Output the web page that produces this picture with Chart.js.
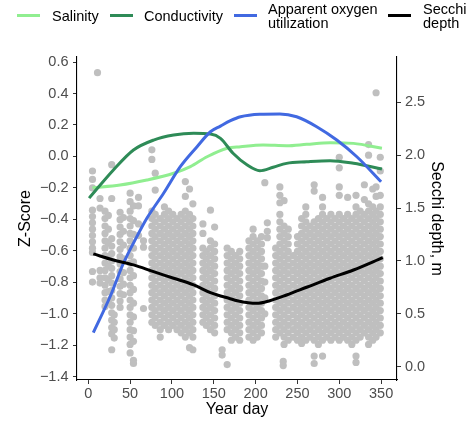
<!DOCTYPE html>
<html lang="en">
<head>
  <meta charset="UTF-8">
  <title>Z-Score and Secchi depth by year day</title>
  <script src="https://cdn.jsdelivr.net/npm/chart.js"></script>
  <style>
    body { margin: 0; background: #fff; }
    .wrap { position: relative; width: 470px; height: 422px; overflow: hidden; font-family: "Liberation Sans", Arial, sans-serif; }
    .wrap canvas { position: absolute; left: 0; top: 0; }
    .key { position: absolute; top: 14px; width: 23px; height: 3px; }
    .label { position: absolute; font-size: 14.5px; color: #000; white-space: nowrap; }
    .label.one { top: 9px; line-height: 14.5px; }
    .label.two { top: 2.3px; line-height: 14px; }
  </style>
</head>
<body>
  <div class="wrap">
    <canvas id="chart" width="470" height="422"></canvas>
    <div class="legend">
      <span class="key" style="left:17px;background:#90ee90"></span>
      <span class="label one" style="left:52px">Salinity</span>
      <span class="key" style="left:110px;background:#2e8b57"></span>
      <span class="label one" style="left:144px">Conductivity</span>
      <span class="key" style="left:234px;background:#4169e1"></span>
      <span class="label two" style="left:268px">Apparent oxygen<br>utilization</span>
      <span class="key" style="left:388px;background:#000"></span>
      <span class="label two" style="left:423px">Secchi<br>depth</span>
    </div>
  </div>

  <script>
    // axis ticks
    const dayTicks = [0, 50, 100, 150, 200, 250, 300, 350];
    const zTicks = [-1.4, -1.2, -1.0, -0.8, -0.6, -0.4, -0.2, 0.0, 0.2, 0.4, 0.6];
    const depthTicks = [0.0, 0.5, 1.0, 1.5, 2.0, 2.5];

    // smoothed z-score curves (left axis)
    const salinityDays = [5, 38, 70, 102, 122, 142, 166, 182, 209, 237, 261, 289, 317, 351];
    const salinityZ = [-0.199, -0.182, -0.150, -0.107, -0.065, -0.002, 0.052, 0.062, 0.073, 0.068, 0.077, 0.087, 0.083, 0.052];

    const conductivityDays = [1, 30, 54, 78, 102, 126, 146, 158, 173, 190, 205, 221, 237, 261, 289, 317, 351];
    const conductivityZ = [-0.265, -0.086, 0.041, 0.104, 0.136, 0.147, 0.142, 0.115, 0.020, -0.055, -0.091, -0.069, -0.044, -0.034, -0.027, -0.044, -0.080];

    const aouDays = [6, 26, 42, 58, 70, 90, 110, 130, 146, 158, 170, 182, 205, 229, 249, 273, 297, 321, 350];
    const aouZ = [-1.12, -0.892, -0.679, -0.510, -0.393, -0.234, -0.065, 0.062, 0.157, 0.193, 0.227, 0.252, 0.268, 0.270, 0.252, 0.189, 0.104, -0.002, -0.161];

    // smoothed Secchi depth (right axis)
    const secchiFitDays = [6, 30, 54, 78, 102, 126, 146, 158, 168, 178, 201, 217, 237, 261, 289, 317, 352];
    const secchiFitDepth = [1.066, 1.009, 0.962, 0.898, 0.836, 0.773, 0.700, 0.668, 0.647, 0.624, 0.599, 0.624, 0.678, 0.751, 0.836, 0.914, 1.031];

    // Secchi observations: [year day, depth, depth, ...]
    const secchiObs = [
      [5, 1.85, 1.77, 1.69, 1.48, 1.42, 1.36, 1.30, 1.24, 1.18, 1.12, 1.08, 0.90, 0.80],
      [11, 2.78],
      [14, 1.59, 1.50, 0.91, 0.84, 0.79],
      [20, 1.47, 1.40, 1.33, 1.26, 1.19, 1.12, 1.05, 0.98, 0.91, 0.84, 0.77, 0.70, 0.63, 0.57],
      [24, 1.43, 1.30, 1.17, 1.04, 0.95, 0.82, 0.71, 0.61],
      [28, 1.91, 1.59, 1.21, 1.14, 1.07, 1.00, 0.93, 0.86, 0.79, 0.72, 0.65, 0.58, 0.51, 0.44, 0.37, 0.31, 0.16],
      [31, 0.49, 0.42, 0.35, 0.27],
      [38, 1.46, 1.39, 1.32, 1.25, 1.18, 1.11, 1.04, 0.97, 0.90, 0.83, 0.76, 0.69, 0.62, 0.56],
      [42, 1.41, 1.28, 1.15, 1.02, 0.89, 0.78, 0.68],
      [50, 1.64, 1.56, 1.47, 1.40, 1.33, 1.26, 1.19, 1.12, 1.05, 0.98, 0.91, 0.84, 0.77, 0.70, 0.63, 0.56, 0.49, 0.42, 0.35, 0.28, 0.21, 0.13],
      [54, 1.52, 1.38, 1.25, 1.12, 0.99, 0.86, 0.73, 0.60, 0.47, 0.34, 0.24, 0.06, 0.03],
      [60, 1.60, 1.52, 1.35, 1.24],
      [66, 1.19, 1.13, 0.55],
      [76, 2.05, 1.96, 1.47, 1.40, 1.33, 1.26, 1.19, 1.12, 1.05, 0.98, 0.91, 0.84, 0.77, 0.70, 0.63, 0.56, 0.49, 0.42],
      [80, 1.83, 1.67, 1.44, 1.37, 1.30, 1.23, 1.16, 1.09, 1.02, 0.95, 0.88, 0.81, 0.74, 0.67, 0.60, 0.53, 0.46, 0.39],
      [86, 1.40, 1.33, 1.26, 1.19, 1.12, 1.05, 0.98, 0.91, 0.84, 0.77, 0.70, 0.63, 0.56, 0.49, 0.42, 0.35, 0.28],
      [91, 1.51, 1.44, 1.37, 1.30, 1.23, 1.16, 1.09, 1.02, 0.95, 0.88, 0.81, 0.74, 0.67, 0.60, 0.53, 0.46, 0.39],
      [96, 1.47, 1.40, 1.33, 1.26, 1.19, 1.12, 1.05, 0.98, 0.91, 0.84, 0.77, 0.70, 0.63, 0.56, 0.49, 0.42, 0.35],
      [101, 1.44, 1.37, 1.30, 1.23, 1.16, 1.09, 1.02, 0.95, 0.88, 0.81, 0.74, 0.67, 0.60, 0.53, 0.46, 0.39],
      [106, 1.40, 1.33, 1.26, 1.19, 1.12, 1.05, 0.98, 0.91, 0.84, 0.77, 0.70, 0.63, 0.56, 0.49, 0.42, 0.35],
      [111, 1.44, 1.37, 1.30, 1.23, 1.16, 1.09, 1.02, 0.95, 0.88, 0.81, 0.74, 0.67, 0.60, 0.53, 0.46, 0.39, 0.32],
      [116, 1.75, 1.61, 1.47, 1.40, 1.33, 1.26, 1.19, 1.12, 1.05, 0.98, 0.91, 0.84, 0.77, 0.70, 0.63, 0.56, 0.49, 0.42, 0.35, 0.28],
      [121, 1.68, 1.44, 1.37, 1.30, 1.23, 1.16, 1.09, 1.02, 0.95, 0.88, 0.81, 0.74, 0.67, 0.60, 0.53, 0.46, 0.39, 0.32, 0.18],
      [125, 1.54, 1.40, 1.33, 1.26, 1.19, 1.12, 1.05, 0.98, 0.91, 0.84, 0.77, 0.70, 0.63, 0.56, 0.49, 0.42, 0.35, 0.28, 0.16],
      [137, 1.35, 1.26, 1.12, 1.05, 0.98, 0.91, 0.84, 0.77, 0.70, 0.63, 0.56, 0.49, 0.42],
      [141, 1.09, 1.02, 0.95, 0.88, 0.81, 0.74, 0.67, 0.60, 0.53, 0.46, 0.39],
      [146, 1.48, 1.19, 1.12, 1.05, 0.98, 0.91, 0.84, 0.77, 0.70, 0.63, 0.56, 0.49, 0.42, 0.35],
      [151, 1.32, 1.16, 1.09, 1.02, 0.95, 0.88, 0.81, 0.74, 0.67, 0.60, 0.53, 0.46, 0.39, 0.32],
      [160, 0.16, 0.11],
      [166, 1.12, 1.05, 0.98, 0.91, 0.84, 0.77, 0.70, 0.63, 0.56, 0.49, 0.42, 0.35, 0.02],
      [171, 1.09, 1.02, 0.95, 0.88, 0.81, 0.74, 0.67, 0.60, 0.53, 0.46, 0.39, 0.32, 0.25],
      [176, 1.05, 0.98, 0.91, 0.84, 0.77, 0.70, 0.63, 0.56, 0.49, 0.42, 0.35, 0.28],
      [181, 1.09, 1.02, 0.95, 0.88, 0.81, 0.74, 0.67, 0.60, 0.53, 0.46, 0.39, 0.32, 0.25],
      [192, 1.19, 1.12, 1.05, 0.98, 0.91, 0.84, 0.77, 0.70, 0.63, 0.56, 0.49, 0.42, 0.35, 0.28],
      [197, 1.30, 1.23, 1.16, 1.09, 1.02, 0.95, 0.88, 0.81, 0.74, 0.67, 0.60, 0.53, 0.46, 0.39, 0.32, 0.25],
      [202, 1.19, 1.12, 1.05, 0.98, 0.91, 0.84, 0.77, 0.70, 0.63, 0.56, 0.49, 0.42, 0.35, 0.28],
      [207, 1.23, 1.16, 1.09, 1.02, 0.95, 0.88, 0.81, 0.74, 0.67, 0.60, 0.53, 0.46, 0.39, 0.32],
      [211, 1.74, 0.95, 0.80, 0.65, 0.50],
      [214, 1.36, 1.28, 1.22],
      [224, 1.12, 1.05, 0.98, 0.91, 0.84, 0.77, 0.70, 0.63, 0.56, 0.49, 0.42, 0.35, 0.28],
      [229, 1.70, 1.62, 1.55, 1.44, 1.37, 1.30, 1.23, 1.16, 1.09, 1.02, 0.95, 0.88, 0.81, 0.74, 0.67, 0.60, 0.53, 0.46, 0.39, 0.32],
      [233, 0.05, 0.01],
      [234, 1.57, 1.33, 1.26, 1.19, 1.12, 1.05, 0.98, 0.91, 0.84, 0.77, 0.70, 0.63, 0.56, 0.49, 0.42, 0.35, 0.28, 0.21],
      [239, 1.30, 1.23, 1.16, 1.09, 1.02, 0.95, 0.88, 0.81, 0.74, 0.67, 0.60, 0.53, 0.46, 0.39, 0.32, 0.25],
      [245, 1.05, 0.98, 0.91, 0.84, 0.77, 0.70, 0.63, 0.56, 0.49, 0.42, 0.35, 0.28],
      [250, 1.23, 1.16, 1.09, 1.02, 0.95, 0.88, 0.81, 0.74, 0.67, 0.60, 0.53, 0.46, 0.39, 0.32, 0.25],
      [255, 1.40, 1.33, 1.26, 1.19, 1.12, 1.05, 0.98, 0.91, 0.84, 0.77, 0.70, 0.63, 0.56, 0.49, 0.42, 0.35, 0.28, 0.22],
      [260, 1.51, 1.44, 1.37, 1.30, 1.23, 1.16, 1.09, 1.02, 0.95, 0.88, 0.81, 0.74, 0.67, 0.60, 0.53, 0.46, 0.39, 0.32, 0.25],
      [265, 1.33, 1.26, 1.19, 1.12, 1.05, 0.98, 0.91, 0.84, 0.77, 0.70, 0.63, 0.56, 0.49, 0.42, 0.35, 0.28],
      [270, 1.72, 1.66, 1.37, 1.30, 1.23, 1.16, 1.09, 1.02, 0.95, 0.88, 0.81, 0.74, 0.67, 0.60, 0.53, 0.46, 0.39, 0.32, 0.25, 0.10, 0.03],
      [275, 1.40, 1.33, 1.26, 1.19, 1.12, 1.05, 0.98, 0.91, 0.84, 0.77, 0.70, 0.63, 0.56, 0.49, 0.42, 0.35, 0.28, 0.21],
      [280, 1.60, 1.51, 1.44, 1.37, 1.30, 1.23, 1.16, 1.09, 1.02, 0.95, 0.88, 0.81, 0.74, 0.67, 0.60, 0.53, 0.46, 0.39, 0.32, 0.25, 0.10],
      [285, 1.40, 1.33, 1.26, 1.19, 1.12, 1.05, 0.98, 0.91, 0.84, 0.77, 0.70, 0.63, 0.56, 0.49, 0.42, 0.35, 0.28],
      [290, 1.44, 1.37, 1.30, 1.23, 1.16, 1.09, 1.02, 0.95, 0.88, 0.81, 0.74, 0.67, 0.60, 0.53, 0.46, 0.39, 0.32, 0.25],
      [295, 1.40, 1.33, 1.26, 1.19, 1.12, 1.05, 0.98, 0.91, 0.84, 0.77, 0.70, 0.63, 0.56, 0.49, 0.42, 0.35, 0.28],
      [300, 1.98, 1.88, 1.70, 1.62, 1.44, 1.37, 1.30, 1.23, 1.16, 1.09, 1.02, 0.95, 0.88, 0.81, 0.74, 0.67, 0.60, 0.53, 0.46, 0.39, 0.32, 0.25],
      [305, 1.40, 1.33, 1.26, 1.19, 1.12, 1.05, 0.98, 0.91, 0.84, 0.77, 0.70, 0.63, 0.56, 0.49, 0.42, 0.35, 0.28],
      [310, 1.60, 1.44, 1.37, 1.30, 1.23, 1.16, 1.09, 1.02, 0.95, 0.88, 0.81, 0.74, 0.67, 0.60, 0.53, 0.46, 0.39, 0.32, 0.25],
      [315, 1.40, 1.33, 1.26, 1.19, 1.12, 1.05, 0.98, 0.91, 0.84, 0.77, 0.70, 0.63, 0.56, 0.49, 0.42, 0.35, 0.28, 0.21],
      [320, 1.62, 1.51, 1.44, 1.37, 1.30, 1.23, 1.16, 1.09, 1.02, 0.95, 0.88, 0.81, 0.74, 0.67, 0.60, 0.53, 0.46, 0.39, 0.32, 0.25, 0.10, 0.04],
      [325, 1.47, 1.40, 1.33, 1.26, 1.19, 1.12, 1.05, 0.98, 0.91, 0.84, 0.77, 0.70, 0.63, 0.56, 0.49, 0.42, 0.35, 0.28],
      [330, 1.72, 1.58, 1.44, 1.37, 1.30, 1.23, 1.16, 1.09, 1.02, 0.95, 0.88, 0.81, 0.74, 0.67, 0.60, 0.53, 0.46, 0.39, 0.32],
      [335, 2.10, 2.00, 1.54, 1.47, 1.40, 1.33, 1.26, 1.19, 1.12, 1.05, 0.98, 0.91, 0.84, 0.77, 0.70, 0.63, 0.56, 0.49, 0.42, 0.35, 0.28, 0.21],
      [340, 1.68, 1.51, 1.44, 1.37, 1.30, 1.23, 1.16, 1.09, 1.02, 0.95, 0.88, 0.81, 0.74, 0.67, 0.60, 0.53, 0.46, 0.39, 0.32, 0.25],
      [344, 2.59, 1.70, 1.61, 1.47, 1.40, 1.33, 1.26, 1.19, 1.12, 1.05, 0.98, 0.91, 0.84, 0.77, 0.70, 0.63, 0.56, 0.49, 0.42, 0.35, 0.28],
      [349, 1.98, 1.85, 1.62, 1.51, 1.44, 1.37, 1.30, 1.23, 1.16, 1.09, 1.02, 0.95, 0.88, 0.81, 0.74, 0.67, 0.60, 0.53, 0.46, 0.39, 0.32]
    ];

    const toXY = (xs, ys) => xs.map((x, i) => ({ x: x, y: ys[i] }));

    const secchiPoints = [];
    secchiObs.forEach(([day, ...depths]) => {
      depths.forEach(d => secchiPoints.push({ x: day, y: d }));
    });

    const minus = v => v.toFixed(1).replace('-', '\u2212');
    const tickFont = { family: '"Liberation Sans", Arial, sans-serif', size: 14.5 };
    const titleFont = { family: '"Liberation Sans", Arial, sans-serif', size: 16 };
    const grid = { drawOnChartArea: false, drawTicks: true, tickLength: 4, color: '#333', tickWidth: 1 };
    const border = { display: true, color: '#000', width: 1.1 };

    function curve(data, color, axis) {
      return {
        type: 'line',
        data: data,
        yAxisID: axis,
        borderColor: color,
        borderWidth: 3,
        pointRadius: 0,
        fill: false,
        cubicInterpolationMode: 'monotone'
      };
    }

    new Chart(document.getElementById('chart'), {
      type: 'scatter',
      data: {
        datasets: [
          curve(toXY(secchiFitDays, secchiFitDepth), '#000000', 'y2'),
          curve(toXY(aouDays, aouZ), '#4169e1', 'y'),
          curve(toXY(conductivityDays, conductivityZ), '#2e8b57', 'y'),
          curve(toXY(salinityDays, salinityZ), '#90ee90', 'y'),
          {
            type: 'scatter',
            data: secchiPoints,
            yAxisID: 'y2',
            backgroundColor: '#bfbfbf',
            borderWidth: 0,
            pointRadius: 3.6
          }
        ]
      },
      options: {
        responsive: false,
        devicePixelRatio: 1,
        animation: false,
        layout: { padding: { top: 57, left: 0, right: 0, bottom: 0 } },
        plugins: { legend: { display: false }, tooltip: { enabled: false } },
        scales: {
          x: {
            type: 'linear',
            position: 'bottom',
            min: -13.5,
            max: 369,
            afterBuildTicks: s => { s.ticks = dayTicks.map(v => ({ value: v })); },
            afterFit: s => { s.height = 42; },
            ticks: { color: '#4d4d4d', font: tickFont, padding: 1, maxRotation: 0, callback: v => String(v) },
            grid: grid,
            border: border,
            title: { display: true, text: 'Year day', color: '#000', font: titleFont, padding: { top: 0, bottom: 2.4 } }
          },
          y: {
            type: 'linear',
            position: 'left',
            min: -1.421,
            max: 0.632,
            afterBuildTicks: s => { s.ticks = zTicks.map(v => ({ value: v })); },
            afterFit: s => { s.width = 77; },
            ticks: { color: '#4d4d4d', font: tickFont, padding: 4.5, callback: v => minus(v) },
            grid: grid,
            border: border,
            title: { display: true, text: 'Z-Score', color: '#000', font: titleFont, padding: { top: 16.4, bottom: 0 } }
          },
          y2: {
            type: 'linear',
            position: 'right',
            min: -0.126,
            max: 2.928,
            afterBuildTicks: s => { s.ticks = depthTicks.map(v => ({ value: v })); },
            afterFit: s => { s.width = 73; },
            ticks: { color: '#4d4d4d', font: tickFont, padding: 4, callback: v => minus(v) },
            grid: grid,
            border: border,
            title: { display: true, text: 'Secchi depth, m', color: '#000', font: titleFont, padding: { top: 24.4, bottom: 0 } }
          }
        }
      }
    });
  </script>
</body>
</html>
